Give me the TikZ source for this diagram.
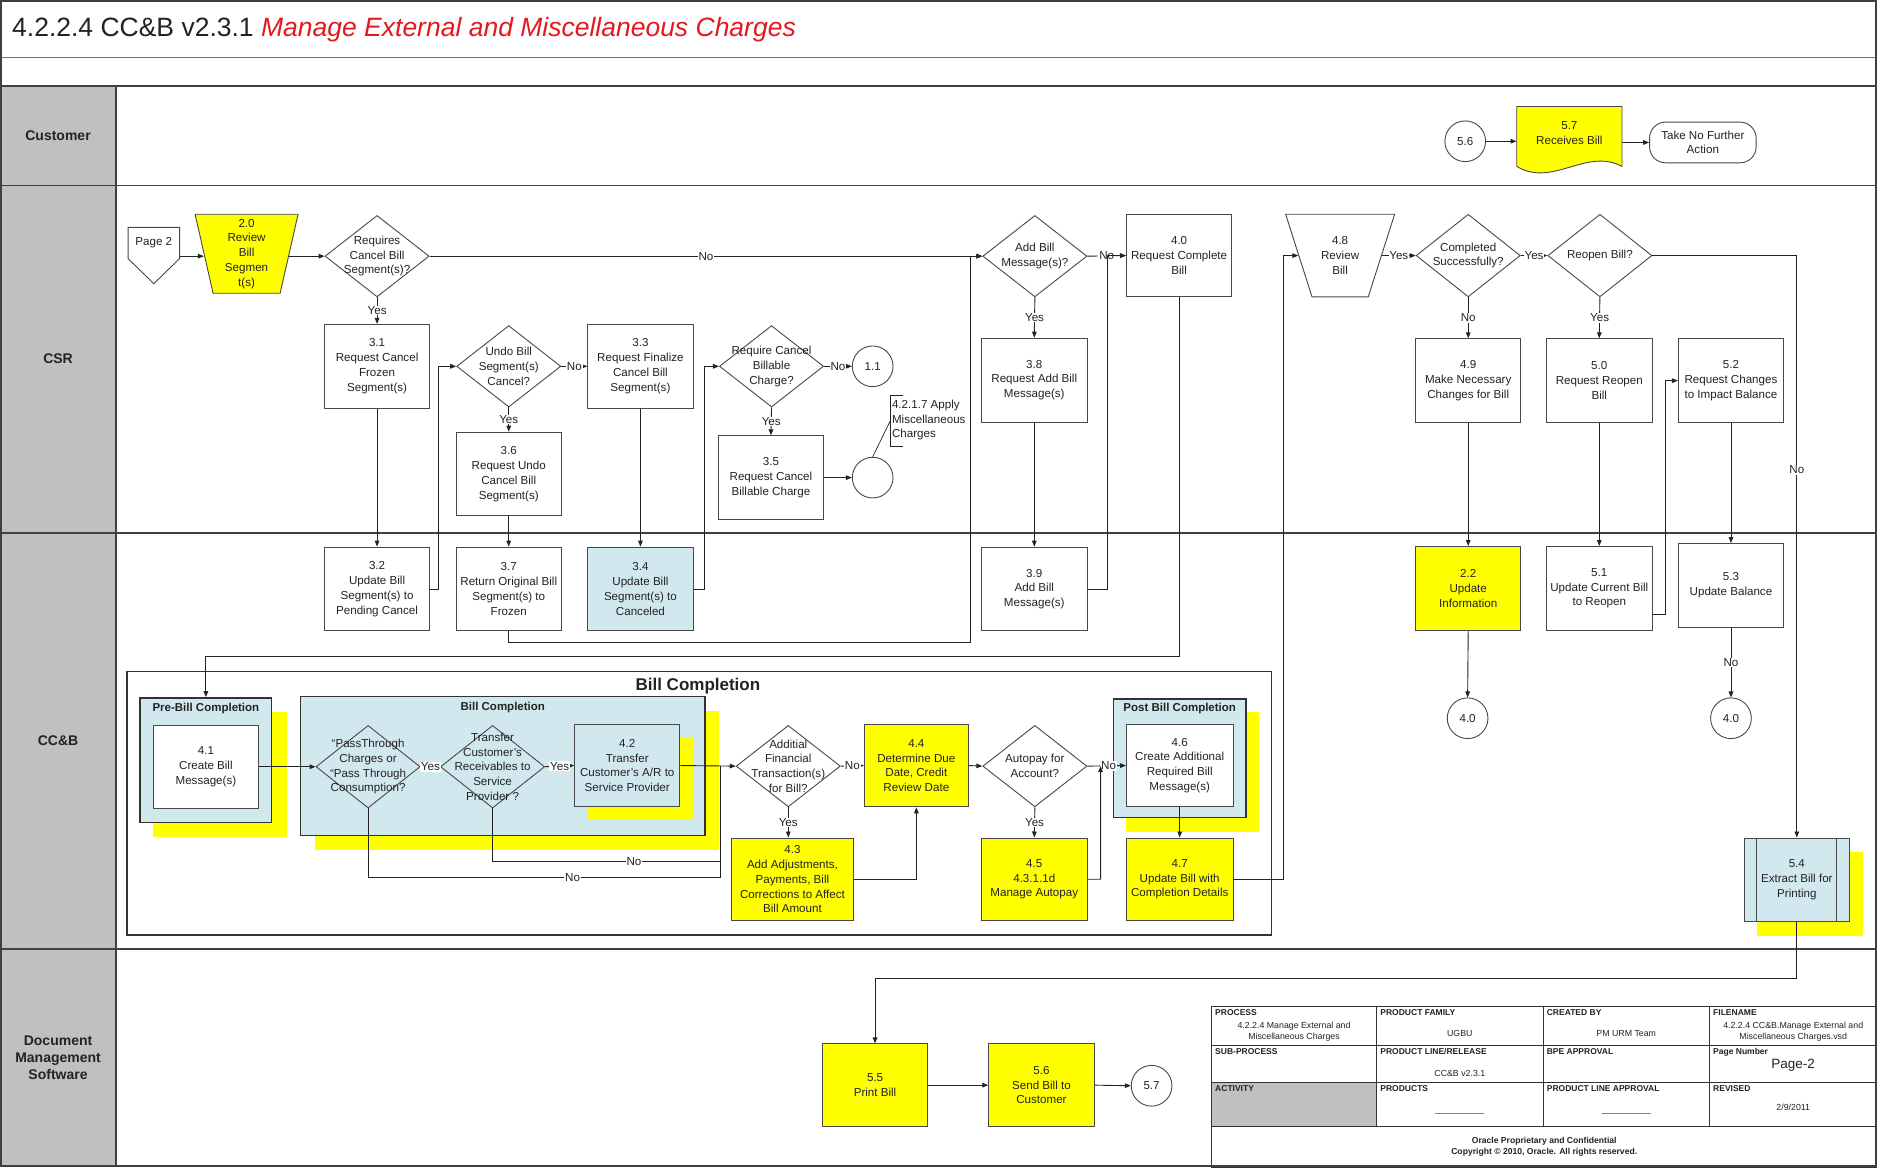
\documentclass[tikz,border=0pt]{standalone}
\usepackage{fontspec}
\setmainfont{Liberation Sans}
\usetikzlibrary{shapes.geometric,arrows.meta,calc}
\definecolor{yel}{RGB}{255,255,0}
\definecolor{lb}{RGB}{210,232,239}
\definecolor{hdr}{RGB}{192,192,192}
\definecolor{bc}{RGB}{72,72,72}
\definecolor{lc}{RGB}{35,35,35}
\definecolor{tc}{RGB}{35,35,35}
\definecolor{ttl}{RGB}{228,24,30}
\newcommand\bxf{\fontsize{11.6}{14.8}\selectfont}
\newcommand\tbh{\fontsize{8.5}{10}\selectfont\bfseries}
\newcommand\tbv{\fontsize{8.8}{10.6}\selectfont}
\begin{document}
\begin{tikzpicture}[x=1.197pt,y=-1.197pt,
  sz/.style 2 args={minimum width=#1*1.197pt, minimum height=#2*1.197pt},
  ln/.style={draw=lc, line width=0.9pt},
  arr/.style={ln, -{Triangle[length=6pt,width=4.6pt]}},
  box/.style={draw=bc, line width=0.9pt, sz={88}{70}, align=center, font=\bxf, text=tc, inner sep=1pt, fill=white},
  ybox/.style={box, fill=yel},
  bbox/.style={box, fill=lb},
  dia/.style={diamond, draw=bc, line width=0.9pt, sz={87}{68}, inner sep=0pt},
  dl/.style={font=\bxf, align=center, text=tc, inner sep=0pt},
  circ/.style={circle, draw=bc, line width=0.9pt, minimum size=34*1.197pt, inner sep=0pt, font=\bxf, text=tc, fill=white},
  lbl/.style={fill=white, inner sep=0.8pt, font=\bxf, text=tc},
  cont/.style={draw=bc!70!black, line width=1.5pt, fill=lb},
  ctl/.style={font=\fontsize{11.5}{13}\selectfont\bfseries, text=tc},
  lane/.style={draw=black!75, line width=1.6pt},
  lanelbl/.style={font=\fontsize{14}{17}\selectfont\bfseries, align=center, text=tc},
  tline/.style={draw=black!80, line width=0.8pt},
  thd/.style={font=\tbh, text=tc, anchor=north west, inner sep=0pt},
  tvl/.style={font=\tbv, text=tc, align=center, inner sep=0pt},
]
\useasboundingbox (0,0) rectangle (1568,975);
\fill[white] (0,0) rectangle (1568,975);
% lanes
\fill[hdr] (0,72) rectangle (97,975);
\draw[draw=black!55, line width=1.2pt] (0,48) -- (1568,48);
\draw[lane] (0,72) -- (1568,72);
\draw[lane] (0,155) -- (1568,155);
\draw[lane] (0,445) -- (1568,445);
\draw[lane] (0,793) -- (1568,793);
\draw[lane] (97,72) -- (97,975);
\draw[lane] (1,1) rectangle (1567,974);

\node[anchor=west, font=\fontsize{26.5}{30}\selectfont, text=tc, inner sep=0pt] (title) at (10,25) {4.2.2.4 CC\&B v2.3.1 \textcolor{ttl}{\itshape Manage External and Miscellaneous Charges}};

\node[lanelbl] (lcus) at (48.5,113.5) {Customer};
\node[lanelbl] (lcsr) at (48.5,300) {CSR};
\node[lanelbl] (lccb) at (48.5,619) {CC\&B};
\node[lanelbl] (ldms) at (48.5,884) {Document\\Management\\Software};

% ---------- Customer lane
\node[circ] (c56) at (1224,118) {5.6};
\filldraw[fill=yel, draw=bc, line width=0.9pt] (1267,89) -- (1355,89) -- (1355,139) .. controls (1325,123) and (1297,157) .. (1267,139) -- cycle;
\node[dl, sz={88}{44}] (n57) at (1311,111) {5.7\\Receives Bill};
\node[box, rounded corners=16pt, sz={89}{34}] (tnf) at (1422.5,119) {Take No Further\\Action};

% ---------- CSR lane
\filldraw[fill=white, draw=bc, line width=0.9pt] (107,190) -- (150,190) -- (150,216) -- (128.5,237) -- (107,216) -- cycle;
\node[dl, sz={43}{26}] (pg) at (128.5,203) {Page 2};
\filldraw[fill=yel, draw=bc, line width=0.9pt] (163,179) -- (249,179) -- (234,245) -- (178,245) -- cycle;
\node[dl, sz={71}{66}] (t20) at (206,212) {2.0\\Review\\Bill\\Segmen\\t(s)};
\node[dia, label={[dl]center:{Requires\\Cancel Bill\\Segment(s)?}}] (d1) at (315,214) {};
\node[box] (b31) at (315,306) {3.1\\Request Cancel\\Frozen\\Segment(s)};
\node[dia, label={[dl]center:{Undo Bill\\Segment(s)\\Cancel?}}] (dU) at (425,306) {};
\node[box] (b33) at (535,306) {3.3\\Request Finalize\\Cancel Bill\\Segment(s)};
\node[box] (b36) at (425,396) {3.6\\Request Undo\\Cancel Bill\\Segment(s)};
\node[dia, label={[dl]center:{Require Cancel\\Billable\\Charge?}}] (dR) at (644.5,306) {};
\node[circ] (c11) at (729,306) {1.1};
\node[box] (b35) at (644,399) {3.5\\Request Cancel\\Billable Charge};
\node[circ] (cM) at (729,399) {};
\draw[ln, line width=0.7pt] (cM.north) -- (744,351);
\draw[ln, line width=0.7pt] (754,330) -- (744,330) -- (744,373) -- (754,373);
\node[dl, anchor=west, align=left] (ann) at (745,351) {4.2.1.7 Apply\\Miscellaneous\\Charges};
\node[dia, label={[dl]center:{Add Bill\\Message(s)?}}] (d5) at (864.5,214) {};
\node[box, sz={88}{69}] (b40) at (985,213.5) {4.0\\Request Complete\\Bill};
\node[box] (b38) at (864,317.5) {3.8\\Request Add Bill\\Message(s)};
\filldraw[fill=white, draw=bc, line width=0.9pt] (1074,179) -- (1165,179) -- (1143,248) -- (1096,248) -- cycle;
\node[dl, sz={69.5}{69}] (t48) at (1119.5,213.5) {4.8\\Review\\Bill};
\node[dia, sz={87}{69}, label={[dl]center:{Completed\\Successfully?}}] (dC) at (1226.5,213.5) {};
\node[dia, sz={87}{69}, label={[dl]center:{Reopen Bill?}}] (dRe) at (1336.5,213.5) {};
\node[box] (b49) at (1226.5,318) {4.9\\Make Necessary\\Changes for Bill};
\node[box] (b50) at (1336,318) {5.0\\Request Reopen\\Bill};
\node[box] (b52) at (1446,318) {5.2\\Request Changes\\to Impact Balance};

% ---------- CC&B lane
\node[box] (b32) at (315,492) {3.2\\Update Bill\\Segment(s) to\\Pending Cancel};
\node[box] (b37) at (425,492) {3.7\\Return Original Bill\\Segment(s) to\\Frozen};
\node[bbox] (b34) at (535,492) {3.4\\Update Bill\\Segment(s) to\\Canceled};
\node[box] (b39) at (864,492) {3.9\\Add Bill\\Message(s)};
\node[ybox] (b22) at (1226.5,491.5) {2.2\\Update\\Information};
\node[box] (b51) at (1336,491.5) {5.1\\Update Current Bill\\to Reopen};
\node[box] (b53) at (1446,489) {5.3\\Update Balance};
\node[circ] (c40a) at (1226,600) {4.0};
\node[circ] (c40b) at (1446,600) {4.0};

\node[draw=black!80, line width=1.4pt, sz={956}{220}] (bcout) at (584,671) {};
\node[font=\fontsize{17}{20}\selectfont\bfseries, text=tc] (bcoutT) at (583,573) {Bill Completion};
\fill[yel] (128,595) rectangle (240,699);
\fill[yel] (263,594) rectangle (601,710);
\fill[yel] (941,595) rectangle (1052,695);
\node[cont, sz={110}{104}] (pre) at (172,635) {};
\node[ctl] (preT) at (172,592) {Pre-Bill Completion};
\node[box, sz={88}{69}] (b41) at (172,640.5) {4.1\\Create Bill\\Message(s)};
\node[cont, sz={338}{116}] (bcin) at (420,640) {};
\node[ctl] (bcinT) at (420,591) {Bill Completion};
\node[dia, sz={87}{69}, label={[dl]center:{“PassThrough\\Charges or\\“Pass Through\\Consumption?}}] (dP) at (307.5,640.5) {};
\node[dia, sz={87}{69}, label={[dl]center:{Transfer\\Customer's\\Receivables to\\Service\\Provider ?}}] (dT) at (411.5,640.5) {};
\fill[yel] (491,616) rectangle (579,685);
\node[bbox, sz={88}{69}] (b42) at (524,639.5) {4.2\\Transfer\\Customer's A/R to\\Service Provider};
\node[dia, label={[dl]center:{Additial\\Financial\\Transaction(s)\\for Bill?}}] (dA) at (658.5,640) {};
\node[ybox, sz={87}{69}] (b44) at (765.5,639.5) {4.4\\Determine Due\\Date, Credit\\Review Date};
\node[ybox, sz={102}{69}] (b43) at (662,734.5) {4.3\\Add Adjustments,\\Payments, Bill\\Corrections to Affect\\Bill Amount};
\node[dia, label={[dl]center:{Autopay for\\Account?}}] (dAu) at (864.5,640) {};
\node[ybox, sz={88}{69}] (b45) at (864,734.5) {4.5\\4.3.1.1d\\Manage Autopay};
\node[cont, sz={111}{99}] (post) at (985.5,633.5) {};
\node[ctl] (postT) at (985.5,592) {Post Bill Completion};
\node[box, sz={89}{69}] (b46) at (985.5,639.5) {4.6\\Create Additional\\Required Bill\\Message(s)};
\node[ybox, sz={89}{69}] (b47) at (985.5,734.5) {4.7\\Update Bill with\\Completion Details};
\fill[yel] (1468,712) rectangle (1556,782);
\node[bbox] (b54) at (1501,735) {5.4\\Extract Bill for\\Printing};
\draw[draw=bc, line width=0.9pt] ([xshift=11*1.197pt]b54.north west) -- ([xshift=11*1.197pt]b54.south west);
\draw[draw=bc, line width=0.9pt] ([xshift=-11*1.197pt]b54.north east) -- ([xshift=-11*1.197pt]b54.south east);

% ---------- DMS lane
\node[ybox, sz={88}{69}] (b55) at (731,906.5) {5.5\\Print Bill};
\node[ybox, sz={88}{69}] (b56) at (870,906.5) {5.6\\Send Bill to\\Customer};
\node[circ] (c57) at (962,907) {5.7};

% title block
\fill[hdr] (1012,904) rectangle (1150,941);
\draw[tline] (1012,841) rectangle (1568,975);
\draw[tline] (1012,873) -- (1568,873);
\draw[tline] (1012,904) -- (1568,904);
\draw[tline] (1012,941) -- (1568,941);
\foreach \xx in {1150,1289,1428} { \draw[tline] (\xx,841) -- (\xx,941); }
\node[thd] (h1) at (1015,843.5) {PROCESS};
\node[thd] (h2) at (1153,843.5) {PRODUCT FAMILY};
\node[thd] (h3) at (1292,843.5) {CREATED BY};
\node[thd] (h4) at (1431,843.5) {FILENAME};
\node[thd] (h5) at (1015,875.5) {SUB-PROCESS};
\node[thd] (h6) at (1153,875.5) {PRODUCT LINE/RELEASE};
\node[thd] (h7) at (1292,875.5) {BPE APPROVAL};
\node[thd] (h8) at (1431,875.5) {Page Number};
\node[thd] (h9) at (1015,906.5) {ACTIVITY};
\node[thd] (h10) at (1153,906.5) {PRODUCTS};
\node[thd] (h11) at (1292,906.5) {PRODUCT LINE APPROVAL};
\node[thd] (h12) at (1431,906.5) {REVISED};
\node[tvl] (v1) at (1081,862) {4.2.2.4 Manage External and\\Miscellaneous Charges};
\node[tvl] (v2) at (1219.5,863) {UGBU};
\node[tvl] (v3) at (1358.5,863) {PM URM Team};
\node[tvl] (v4) at (1498,862) {4.2.2.4 CC\&B.Manage External and\\Miscellaneous Charges.vsd};
\node[tvl] (v5) at (1219.5,897) {CC\&B v2.3.1};
\node[tvl, font=\fontsize{13.5}{15}\selectfont] (v6) at (1498,890) {Page-2};
\node[tvl] (v7) at (1219.5,930) {\_\_\_\_\_\_\_\_\_\_};
\node[tvl] (v8) at (1358.5,930) {\_\_\_\_\_\_\_\_\_\_};
\node[tvl] (v9) at (1498,925) {2/9/2011};
\node[tvl, font=\fontsize{8.6}{10.8}\selectfont\bfseries] (v10) at (1290,958) {Oracle Proprietary and Confidential\\Copyright © 2010, Oracle. All rights reserved.};

% ---------- connectors
\draw[arr] (c56.east) -- (c56.east -| n57.west);
\draw[arr] (n57.east |- tnf.west) -- (tnf.west);
\draw[arr] (pg.east |- d1.west) -- (t20.west |- d1.west);
\draw[arr] (t20.east |- d1.west) -- (d1.west);
\draw[arr] (d1.east) -- node[lbl]{No} (d5.west);
\draw[arr] (d1.south) -- node[lbl]{Yes} (b31.north);
\draw[arr] (b31.south) -- (b32.north);
\draw[arr] (b32.east) -- ++(7,0) |- (dU.west);
\draw[arr] (dU.east) -- node[lbl]{No} (b33.west);
\draw[arr] (dU.south) -- node[lbl]{Yes} (b36.north);
\draw[arr] (b36.south) -- (b37.north);
\draw[arr] (b37.south) -- ++(0,9) -| ([xshift=-10*1.197pt]d5.west) -- (d5.west);
\draw[arr] (b33.south) -- (b34.north);
\draw[arr] (b34.east) -- ++(9,0) |- (dR.west);
\draw[arr] (dR.east) -- node[lbl]{No} (c11.west);
\draw[arr] (dR.south) -- node[lbl]{Yes} (b35.north);
\draw[arr] (b35.east) -- (cM.west);
\draw[arr] (d5.east) -- node[lbl]{No} (b40.west);
\draw[arr] (d5.south) -- node[lbl]{Yes} (b38.north);
\draw[arr] (b38.south) -- (b39.north);
\draw[arr] (b39.east) -- ++(17,0) |- (b40.west);
\draw[arr] (b40.south) |- ([yshift=34*1.197pt]pre.north) -- (pre.north);
\draw[arr] (b41.east) -- (dP.west);
\draw[arr] (dP.east) -- node[lbl]{Yes} (dT.west);
\draw[arr] (dT.east) -- node[lbl]{Yes} (b42.west);
\draw[arr] (b42.east) -- (dA.west);
\coordinate (jA) at (602,640);
\coordinate (jT) at (602,720);
\coordinate (jP) at (602,733);
\draw[ln] (dT.south) |- node[lbl, pos=0.81]{No} (jT) -- (jA);
\draw[ln] (dP.south) |- node[lbl, pos=0.79]{No} (jP) -- (jT);
\draw[arr] (dA.east) -- node[lbl]{No} (b44.west);
\draw[arr] (dA.south) -- node[lbl]{Yes} (dA.south |- b43.north);
\draw[arr] (b43.east) -| (b44.south);
\draw[arr] (b44.east) -- (dAu.west);
\draw[arr] (dAu.east) -- node[lbl, pos=0.55]{No} (b46.west);
\draw[arr] (dAu.south) -- node[lbl]{Yes} (b45.north);
\draw[arr] (b45.east) -- ++(11,0) -- ($(dAu.east)+(11,0)$);
\draw[arr] (b46.south) -- (b47.north);
\draw[arr] (b47.east) -- ++(42,0) |- (t48.west);
\draw[arr] (t48.east) -- node[lbl]{Yes} (dC.west);
\draw[arr] (dC.east) -- node[lbl]{Yes} (dRe.west);
\draw[arr] (dC.south) -- node[lbl]{No} (b49.north);
\draw[arr] (dRe.south) -- node[lbl]{Yes} (b50.north);
\draw[arr] (dRe.east) -| node[lbl, pos=0.684]{No} (b54.north);
\draw[arr] (b49.south) -- (b22.north);
\draw[arr] (b50.south) -- (b51.north);
\draw[arr] ([yshift=-22*1.197pt]b51.east) -- ++(11,0) |- (b52.west);
\draw[arr] (b52.south) -- (b53.north);
\draw[arr] (b22.south) -- (c40a.north);
\draw[arr] (b53.south) -- node[lbl]{No} (c40b.north);
\draw[arr] (b54.south) -- ++(0,47) -| (b55.north);
\draw[arr] (b55.east) -- (b56.west);
\draw[arr] (b56.east) -- (c57.west);
\end{tikzpicture}
\end{document}
